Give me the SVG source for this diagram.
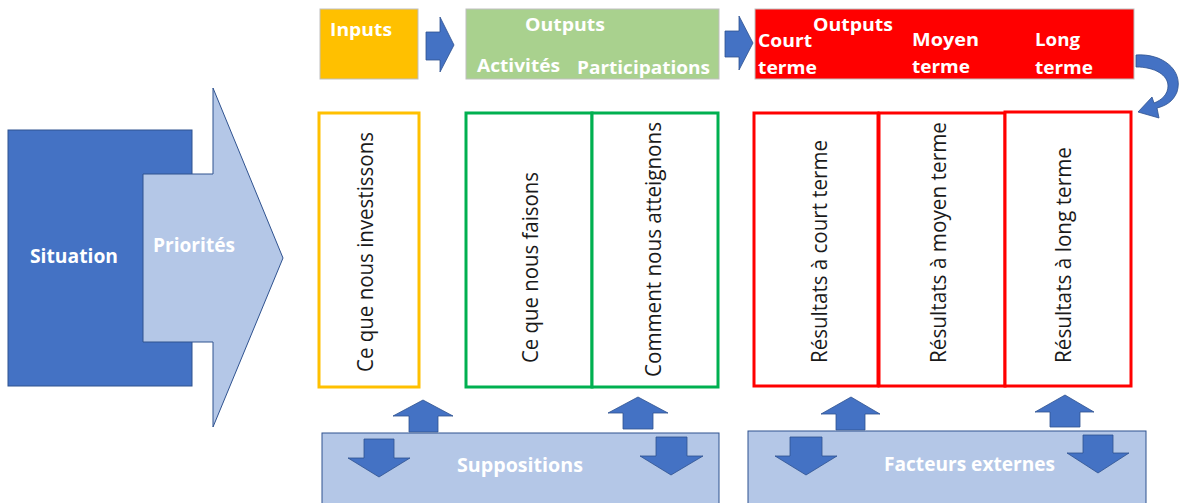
<svg xmlns="http://www.w3.org/2000/svg" width="1179" height="503" viewBox="0 0 1179 503">
  <style>
    .hdr { font-family: "Open Sans", "Liberation Sans", sans-serif; font-weight: bold; fill: #ffffff; font-size: 18px; }
    .big { font-family: "Open Sans", "Liberation Sans", sans-serif; font-weight: bold; fill: #ffffff; font-size: 19px; }
    .vt { font-family: "Open Sans", "Liberation Sans", sans-serif; fill: #1a1a1a; font-size: 22px; }
    .blk { fill: #4472C4; stroke: #2F528F; stroke-width: 0.8; }
    .pale { fill: #B4C7E7; stroke: #2F528F; stroke-width: 1; }
    .col { fill: #ffffff; stroke-width: 3; }
  </style>

  <!-- Situation / Priorités -->
  <g id="situation">
    <rect x="8" y="130" width="184" height="256" fill="#4472C4" stroke="#2F528F" stroke-width="1"/>
    <text class="big" x="30" y="263" textLength="88" lengthAdjust="spacingAndGlyphs">Situation</text>
  </g>
  <g id="priorites">
    <path class="pale" d="M143,174 L213,174 L213,88 L283,258 L213,427 L213,342 L143,342 Z"/>
    <text class="big" x="153" y="252" textLength="82" lengthAdjust="spacingAndGlyphs">Priorités</text>
  </g>

  <!-- Header bar -->
  <g id="hdr-inputs">
    <rect x="320" y="9" width="98" height="70" fill="#FFC000" stroke="#BFBFBF" stroke-width="1"/>
    <text class="hdr" x="330" y="36" textLength="62" lengthAdjust="spacingAndGlyphs">Inputs</text>
  </g>
  <g id="hdr-outputs">
    <rect x="466" y="9" width="253" height="70" fill="#A9D18E" stroke="#BFBFBF" stroke-width="1"/>
    <text class="hdr" x="525" y="31" textLength="80" lengthAdjust="spacingAndGlyphs">Outputs</text>
    <text class="hdr" x="477" y="72" textLength="83" lengthAdjust="spacingAndGlyphs">Activités</text>
    <text class="hdr" x="577" y="74" textLength="133" lengthAdjust="spacingAndGlyphs">Participations</text>
  </g>
  <g id="hdr-results">
    <rect x="755" y="9" width="379" height="70" fill="#FF0000" stroke="#BFBFBF" stroke-width="1"/>
    <text class="hdr" x="813" y="31" textLength="80" lengthAdjust="spacingAndGlyphs">Outputs</text>
    <text class="hdr" x="758" y="47" textLength="54" lengthAdjust="spacingAndGlyphs">Court</text>
    <text class="hdr" x="758" y="74" textLength="59" lengthAdjust="spacingAndGlyphs">terme</text>
    <text class="hdr" x="912" y="46" textLength="67" lengthAdjust="spacingAndGlyphs">Moyen</text>
    <text class="hdr" x="912" y="73" textLength="58" lengthAdjust="spacingAndGlyphs">terme</text>
    <text class="hdr" x="1035" y="46" textLength="45" lengthAdjust="spacingAndGlyphs">Long</text>
    <text class="hdr" x="1035" y="74" textLength="58" lengthAdjust="spacingAndGlyphs">terme</text>
  </g>

  <!-- Columns -->
  <g id="col-inputs">
    <rect class="col" x="319" y="113" width="100" height="274" stroke="#FFC000"/>
    <text class="vt" transform="translate(373,372) rotate(-90)" textLength="240" lengthAdjust="spacingAndGlyphs">Ce que nous investissons</text>
  </g>
  <g id="col-outputs">
    <rect class="col" x="466" y="113" width="126" height="274" stroke="#00B050"/>
    <rect class="col" x="592" y="113" width="126" height="274" stroke="#00B050"/>
    <text class="vt" transform="translate(538,363) rotate(-90)" textLength="191" lengthAdjust="spacingAndGlyphs">Ce que nous faisons</text>
    <text class="vt" transform="translate(661,377) rotate(-90)" textLength="255" lengthAdjust="spacingAndGlyphs">Comment nous atteignons</text>
  </g>
  <g id="col-results">
    <rect class="col" x="754" y="113" width="124" height="273" stroke="#FF0000"/>
    <rect class="col" x="879" y="113" width="126" height="273" stroke="#FF0000"/>
    <rect class="col" x="1005" y="112" width="126" height="274" stroke="#FF0000"/>
    <text class="vt" transform="translate(827,363) rotate(-90)" textLength="223" lengthAdjust="spacingAndGlyphs">Résultats à court terme</text>
    <text class="vt" transform="translate(946,363) rotate(-90)" textLength="241" lengthAdjust="spacingAndGlyphs">Résultats à moyen terme</text>
    <text class="vt" transform="translate(1071,363) rotate(-90)" textLength="216" lengthAdjust="spacingAndGlyphs">Résultats à long terme</text>
  </g>

  <!-- Bottom bands -->
  <g id="suppositions">
    <rect class="pale" x="322" y="433" width="397" height="80"/>
    <text class="big" x="457" y="472" textLength="126" lengthAdjust="spacingAndGlyphs">Suppositions</text>
  </g>
  <g id="facteurs">
    <rect class="pale" x="748" y="431" width="398" height="80"/>
    <text class="big" x="884" y="471" textLength="171" lengthAdjust="spacingAndGlyphs">Facteurs externes</text>
  </g>

  <!-- Connectors -->
  <g id="connectors">
    <!-- header flow -->
    <path class="blk" d="M426,32 L440,32 L440,17 L454,45 L440,72 L440,60 L426,60 Z"/>
    <path class="blk" d="M725,31 L739,31 L739,16 L753,43 L739,70 L739,57 L725,57 Z"/>
    <!-- loop back into results -->
    <path class="blk" d="M1136,55 C1162,53 1184,70 1177,92 C1173,102 1165,106 1157,108 L1159,118 L1138,112 L1152,97 L1154,103 C1162,100 1168,94 1168,86 C1168,75 1155,67 1136,67 Z"/>
    <!-- up arrows -->
    <path class="blk" d="M409,432 L409,416 L393,416 L423,400 L453,416 L438,416 L438,432 Z"/>
    <path class="blk" d="M623,429 L623,413 L608,413 L638,397 L668,413 L653,413 L653,429 Z"/>
    <path class="blk" d="M836,430 L836,414 L821,414 L851,397 L880,414 L865,414 L865,430 Z"/>
    <path class="blk" d="M1050,427 L1050,412 L1035,412 L1065,395 L1094,412 L1080,412 L1080,427 Z"/>
    <!-- down arrows -->
    <path class="blk" d="M364,439 L394,439 L394,458 L410,458 L379,477 L348,458 L364,458 Z"/>
    <path class="blk" d="M656,437 L687,437 L687,456 L703,456 L671,475 L640,456 L656,456 Z"/>
    <path class="blk" d="M790,437 L822,437 L822,456 L837,456 L806,475 L775,456 L790,456 Z"/>
    <path class="blk" d="M1083,435 L1113,435 L1113,453 L1129,453 L1098,473 L1067,453 L1083,453 Z"/>
  </g>
</svg>
